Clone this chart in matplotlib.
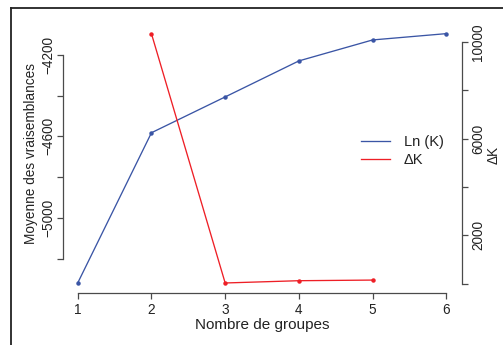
import matplotlib
matplotlib.use("Agg")
import matplotlib.pyplot as plt
from matplotlib.lines import Line2D

plt.rcParams['font.family'] = ['Liberation Sans', 'DejaVu Sans']

# values
groupes = [1, 2, 3, 4, 5, 6]
ln_k = [-5320, -4582, -4406, -4229, -4126, -4095]
groupes_dk = [2, 3, 4, 5]
delta_k = [10352, 30, 124, 150]

left_ticks = [-5200, -5000, -4800, -4600, -4400, -4200]
left_labels = ['', '\u22125000', '', '\u22124600', '', '\u22124200']
right_ticks = [0, 2000, 4000, 6000, 8000, 10000]
right_labels = ['', '2000', '', '6000', '', '10000']

blue = '#3a55a5'
red = '#ee1f26'
axis_col = '#4a4a4a'
txt_col = '#222222'

W, H = 503, 345
fig = plt.figure(figsize=(W / 100, H / 100), dpi=100)

# outer frame (only left and top are visible in the crop)
fig.add_artist(Line2D([11 / W, 11 / W], [0, 1 - 8 / H], color='#222222', lw=1.3,
                      transform=fig.transFigure))
fig.add_artist(Line2D([11 / W, 1], [1 - 8 / H, 1 - 8 / H], color='#222222', lw=1.3,
                      transform=fig.transFigure))

ax = fig.add_axes([63 / W, 52 / H, (462 - 63) / W, (293 - 20) / H])
ax.patch.set_alpha(0)
ax.plot(groupes, ln_k, color=blue, lw=0.95, marker='o', ms=2.2, label='Ln (K)')
ax.set_xlim(0.80, 6.213)
ax.set_ylim(-5369.5, -4028)

ax2 = ax.twinx()
ax2.plot(groupes_dk, delta_k, color=red, lw=0.95, marker='o', ms=2.2, label='\u0394K')
ax2.set_ylim(-385, 10919)

for a in (ax, ax2):
    for s in a.spines.values():
        s.set_visible(False)
        s.set_color(axis_col)
        s.set_linewidth(0.9)

ax.spines['bottom'].set_visible(True)
ax.spines['bottom'].set_bounds(1, 6)
ax.spines['left'].set_visible(True)
ax.spines['left'].set_bounds(-5200, -4200)
ax2.spines['right'].set_visible(True)
ax2.spines['right'].set_bounds(0, 10000)

ax.set_xticks(groupes)
ax.set_xticklabels([str(g) for g in groupes])
ax.set_yticks(left_ticks)
ax.set_yticklabels(left_labels, rotation=90, va='center')
ax2.set_yticks(right_ticks)
ax2.set_yticklabels(right_labels, rotation=90, va='center')

ax.tick_params(axis='x', length=4, width=0.9, color=axis_col, labelcolor=txt_col,
               labelsize=9.8, pad=3)
ax.tick_params(axis='y', length=4, width=0.9, color=axis_col, labelcolor=txt_col,
               labelsize=9.8, pad=1.5)
ax2.tick_params(axis='y', length=4, width=0.9, color=axis_col, labelcolor=txt_col,
                labelsize=9.8, pad=2.5)

fig.text(262 / W, 1 - 325 / H, 'Nombre de groupes', ha='center', va='center',
         fontsize=11, color=txt_col)
fig.text(31 / W, 1 - 154 / H, 'Moyenne des vraisemblances', rotation=90, ha='center',
         va='center', fontsize=9.8, color=txt_col)
fig.text(494 / W, 1 - 155 / H, '\u0394K', rotation=90, ha='center', va='center',
         fontsize=9.8, color=txt_col)

h1, l1 = ax.get_legend_handles_labels()
h2, l2 = ax2.get_legend_handles_labels()
handles = [Line2D([], [], color=blue, lw=0.95), Line2D([], [], color=red, lw=0.95)]
fig.legend(handles, l1 + l2, loc='center left', bbox_to_anchor=(354 / W, 1 - 151 / H),
           frameon=False, fontsize=10.5, handlelength=2.0, handletextpad=0.9,
           labelspacing=0.25, borderpad=0, labelcolor=txt_col)

fig.savefig('out.png', dpi=100)
